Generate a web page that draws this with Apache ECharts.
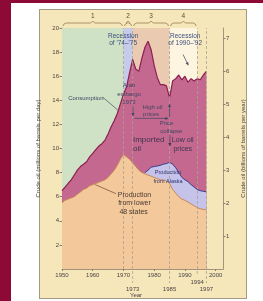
<!DOCTYPE html>
<html>
<head>
<meta charset="utf-8">
<script src="https://cdn.jsdelivr.net/npm/echarts@6/dist/echarts.min.js"></script>
<style>
    html, body { margin: 0; padding: 0; width: 263px; height: 301px; overflow: hidden; background: #8c0a35; }
    #paper { position: absolute; left: 11px; top: 3px; width: 252px; height: 298px; background: #fff; }
    #card { position: absolute; left: 39px; top: 9px; width: 206px; height: 288px; background: #f6e7bb; border: 1px solid #a39a86; }
    #chart { position: absolute; left: 0; top: 0; width: 263px; height: 301px; }
</style>
</head>
<body>
<div id="paper"></div>
<div id="card"></div>
<div id="chart"></div>
<script>
const FONT = '"Liberation Sans", Arial, sans-serif'

// crude oil, millions of barrels per day
const years = [1950, 1951, 1952, 1953, 1954, 1955, 1956, 1957, 1958, 1959,
    1960, 1961, 1962, 1963, 1964, 1965, 1966, 1967, 1968, 1969,
    1970, 1971, 1972, 1973, 1974, 1975, 1976, 1977, 1978, 1979,
    1980, 1981, 1982, 1983, 1984, 1985, 1986, 1987, 1988, 1989,
    1990, 1991, 1992, 1993, 1994, 1995, 1996, 1997]
const consumption = [6.5, 6.8, 7.1, 7.4, 7.8, 8.2, 8.5, 8.7, 8.9, 9.3,
    9.6, 9.9, 10.2, 10.4, 10.7, 11.2, 11.8, 12.3, 12.9, 13.7,
    14.5, 15.1, 16.3, 17.4, 16.6, 16.4, 17.5, 18.4, 18.9, 18.2,
    16.9, 15.9, 15.3, 15.3, 15.2, 14.2, 15.6, 15.8, 16.1, 15.7,
    16.0, 15.5, 15.8, 15.6, 15.8, 15.7, 16.1, 16.4]
const lower48 = [5.5, 5.7, 5.8, 5.9, 6.0, 6.2, 6.4, 6.6, 6.7, 6.9,
    7.0, 7.1, 7.2, 7.3, 7.4, 7.6, 7.9, 8.2, 8.6, 9.1,
    9.5, 9.3, 9.1, 8.8, 8.5, 8.2, 8.0, 7.9, 7.8, 7.7,
    7.6, 7.5, 7.4, 7.4, 7.3, 7.1, 6.6, 6.3, 6.0, 5.8,
    5.7, 5.55, 5.4, 5.25, 5.1, 5.0, 4.95, 4.9]
const alaskaYears = [1977, 1978, 1979, 1980, 1981, 1982, 1983, 1984, 1985, 1986, 1987,
    1988, 1989, 1990, 1991, 1992, 1993, 1994, 1995, 1996, 1997]
const alaska = [0.1, 0.4, 0.75, 0.9, 1.05, 1.2, 1.3, 1.45, 1.75, 2.1, 2.1,
    2.0, 1.8, 1.7, 1.7, 1.6, 1.55, 1.5, 1.5, 1.5, 1.5]

const xTicks = [1950, 1960, 1970, 1980, 1990, 2000]
const rightTicks = [1, 2, 3, 4, 5, 6, 7]
const eras = [['1', 1950, 1970], ['2', 1970, 1973], ['3', 1973, 1985], ['4', 1985, 1994]]
const eventYears = [1970, 1973, 1985, 1994, 1997]
const eventLabels = [['1994', 1994], ['1973', 1973], ['1985', 1985], ['1997', 1997]]

const eraColors = ['#cfe2c6', '#c6cbea', '#ebcab2', '#fdf5e0']
const axisColor = '#8d8068'
const textColor = '#4a4444'

const lower48Pts = years.map((y, i) => [y, lower48[i]])
const alaskaTopPts = alaskaYears.map((y, i) => [y, +(lower48[years.indexOf(y)] + alaska[i]).toFixed(2)])
const consumptionPts = years.map((y, i) => [y, consumption[i]])

const option = {
    animation: false,
    grid: { left: 62, right: 40, top: 28, bottom: 32 },
    xAxis: {
        type: 'value', min: 1950, max: 2002.4,
        axisLine: { lineStyle: { color: axisColor, width: 0.8 } },
        axisTick: { length: 2, customValues: xTicks, lineStyle: { color: axisColor } },
        axisLabel: { customValues: xTicks, formatter: v => String(v), fontSize: 6, margin: 3, color: textColor, fontFamily: FONT },
        splitLine: { show: false },
    },
    yAxis: [{
        type: 'value', min: 0, max: 20, interval: 2, position: 'left',
        name: 'Crude oil (millions of barrels per day)', nameLocation: 'middle', nameGap: 12, nameRotate: 90,
        nameTextStyle: { fontSize: 6, color: textColor, fontFamily: FONT },
        axisLine: { show: true, lineStyle: { color: axisColor, width: 0.8 } },
        axisTick: { show: true, length: 2.5, lineStyle: { color: axisColor } },
        axisLabel: { showMinLabel: false, fontSize: 6, margin: 3, color: textColor, fontFamily: FONT },
        splitLine: { show: false },
    }, {
        type: 'value', min: 0, max: 7.3, position: 'right',
        name: 'Crude oil (billions of barrels per year)', nameLocation: 'middle', nameGap: 12, nameRotate: 90,
        nameTextStyle: { fontSize: 6, color: textColor, fontFamily: FONT },
        axisLine: { show: true, lineStyle: { color: axisColor, width: 0.8 } },
        axisTick: { show: true, length: 2.5, customValues: rightTicks, lineStyle: { color: axisColor } },
        axisLabel: { customValues: rightTicks, fontSize: 6, margin: 3, color: textColor, fontFamily: FONT },
        splitLine: { show: false },
    }],
    series: [{
        // era backgrounds
        type: 'line', data: [], z: 1, silent: true,
        markArea: {
            silent: true,
            data: eras.map((e, i) => [{ xAxis: e[1], itemStyle: { color: eraColors[i] } }, { xAxis: e[2] }]),
        },
    }, {
        name: 'Consumption', type: 'line', data: consumptionPts, z: 2,
        symbol: 'none', lineStyle: { color: '#8b1f4f', width: 1.2 },
        areaStyle: { color: '#c4688f', opacity: 1, origin: 'start' },
    }, {
        name: 'Alaska', type: 'line', data: alaskaTopPts, z: 3,
        symbol: 'none', lineStyle: { color: '#3a3c88', width: 1 },
        areaStyle: { color: '#c5c3ea', opacity: 1, origin: 'start' },
    }, {
        name: 'Lower 48', type: 'line', data: lower48Pts, z: 4,
        symbol: 'none', lineStyle: { color: '#c58a55', width: 1 },
        areaStyle: { color: '#f3c89b', opacity: 1, origin: 'start' },
    }, {
        // event lines
        type: 'line', data: [], z: 6, silent: true,
        markLine: {
            silent: true, symbol: 'none', label: { show: false },
            lineStyle: { color: '#aaa293', type: [3, 2], width: 0.8 },
            data: eventYears.map(y => ({ xAxis: y })),
        },
    }],
}

const chart = echarts.init(document.getElementById('chart'))
chart.setOption(option)

const px = (x, y) => chart.convertToPixel({ xAxisIndex: 0, yAxisIndex: 0 }, [x, y])
const plotTop = px(1950, 20)[1]
const plotBottom = px(1950, 0)[1]

function text(str, x, y, size, color, align, weight) {
    const p = px(x, y)
    return {
        type: 'text', x: p[0], y: p[1], z: 20, silent: true,
        style: {
            text: str, fontSize: size || 6, fontFamily: FONT, fill: color || '#3e4660',
            align: align || 'center', verticalAlign: 'middle', fontWeight: weight || 'normal',
        },
    }
}
function textPx(str, x, y, size, color) {
    return {
        type: 'text', x, y, z: 20, silent: true,
        style: { text: str, fontSize: size || 6, fontFamily: FONT, fill: color || textColor, align: 'center', verticalAlign: 'middle' },
    }
}
function seg(a, b, color, dash) {
    const p = px(a[0], a[1]), q = px(b[0], b[1])
    return {
        type: 'line', z: 20, silent: true,
        shape: { x1: p[0], y1: p[1], x2: q[0], y2: q[1] },
        style: { stroke: color || '#4a4040', lineWidth: 0.7, lineDash: dash || null },
    }
}
function arrow(a, b, color) {
    const p = px(a[0], a[1]), q = px(b[0], b[1])
    const ang = Math.atan2(q[1] - p[1], q[0] - p[0])
    const L = 3, W = 1.5
    const head = [
        [q[0], q[1]],
        [q[0] - L * Math.cos(ang) + W * Math.sin(ang), q[1] - L * Math.sin(ang) - W * Math.cos(ang)],
        [q[0] - L * Math.cos(ang) - W * Math.sin(ang), q[1] - L * Math.sin(ang) + W * Math.cos(ang)],
    ]
    return [seg(a, b, color), { type: 'polygon', z: 20, silent: true, shape: { points: head }, style: { fill: color || '#3e4660' } }]
}

const graphics = []

// era brackets along the top
eras.forEach(e => {
    const x1 = px(e[1], 20)[0] + 1, x2 = px(e[2], 20)[0] - 1, xm = (x1 + x2) / 2
    const y = plotTop - 5
    graphics.push({
        type: 'polyline', z: 20, silent: true,
        shape: { points: [[x1, y + 3], [x1 + 1, y + 1], [x1 + 3, y], [xm - 2, y], [xm, y - 2], [xm + 2, y], [x2 - 3, y], [x2 - 1, y + 1], [x2, y + 3]] },
        style: { stroke: '#a4895e', lineWidth: 0.9, fill: null },
    })
    graphics.push(textPx(e[0], xm, plotTop - 11.5, 6.5, '#5a4a3a'))
})

// event lines below the axis and their year labels
eventYears.slice(1).forEach(y => {
    const x = px(y, 0)[0]
    const len = y === 1994 ? 7 : 14
    graphics.push({
        type: 'line', z: 20, silent: true,
        shape: { x1: x, y1: plotBottom + 2, x2: x, y2: plotBottom + len },
        style: { stroke: '#aaa293', lineWidth: 0.8, lineDash: [3, 2] },
    })
})
eventLabels.forEach(l => {
    const x = px(l[1], 0)[0]
    graphics.push(textPx(l[0], x, plotBottom + (l[1] === 1994 ? 13 : 20.5), 6, textColor))
})
graphics.push(textPx('Year', px(1974.1, 0)[0], plotBottom + 26.5, 6, textColor))

// annotations
const navy = '#3e4f7a'
graphics.push(text('Recession', 1969.9, 19.35, 6.5, navy))
graphics.push(text("of '74\u2013'75", 1969.9, 18.75, 6.5, navy))
graphics.push(text('Recession', 1990.1, 19.35, 6.5, navy))
graphics.push(text("of 1990\u2013'92", 1990.1, 18.75, 6.5, navy))
graphics.push(...arrow([1989.4, 17.8], [1991.1, 16.9], '#3e4660'))

graphics.push(text('Consumption', 1952, 14.2, 6, '#3e4660', 'left'))
graphics.push(seg([1963.3, 14.25], [1968.1, 13.2], '#4a4a5a'))

graphics.push(text('Arab', 1971.8, 15.27, 6, '#3e4660'))
graphics.push(text('embargo', 1971.8, 14.52, 6, '#3e4660'))
graphics.push(text('1973', 1971.8, 13.86, 6, '#3e4660'))
graphics.push(...arrow([1973.1, 13.5], [1973.1, 12.7], '#3e4660'))

graphics.push(text('High oil', 1976.2, 13.44, 6, '#3e4660', 'left'))
graphics.push(text('prices', 1976.4, 12.8, 6, '#3e4660', 'left'))
graphics.push(...arrow([1973.6, 12.5], [1984.6, 12.5], '#3e4660'))
graphics.push(...arrow([1985, 12.6], [1985, 13.7], '#3e4660'))

graphics.push(text('Price', 1984, 12.1, 6, '#3e4660'))
graphics.push(text('collapse', 1985.6, 11.45, 6, '#3e4660'))

graphics.push(text('Imported', 1973.1, 10.7, 8, '#3e3450', 'left'))
graphics.push(text('oil', 1973.1, 9.96, 8, '#3e3450', 'left'))
graphics.push(text('Low oil', 1989.3, 10.7, 7, '#3e3450'))
graphics.push(text('prices', 1989.3, 9.96, 7, '#3e3450'))
graphics.push(...arrow([1985.1, 11.1], [1985.1, 10.2], '#3e3450'))

graphics.push(text('Production', 1984.5, 7.97, 5.5, '#2e3470'))
graphics.push(text('from Alaska', 1984.5, 7.26, 5.5, '#2e3470'))

graphics.push(text('Production', 1973.6, 6.14, 7, '#4a3a30'))
graphics.push(text('from lower', 1973.6, 5.44, 7, '#4a3a30'))
graphics.push(text('48 states', 1973.3, 4.73, 7, '#4a3a30'))
graphics.push(seg([1960.8, 7.0], [1967.6, 6.25], '#6a4a30'))

chart.setOption({ graphic: graphics })
</script>
</body>
</html>
